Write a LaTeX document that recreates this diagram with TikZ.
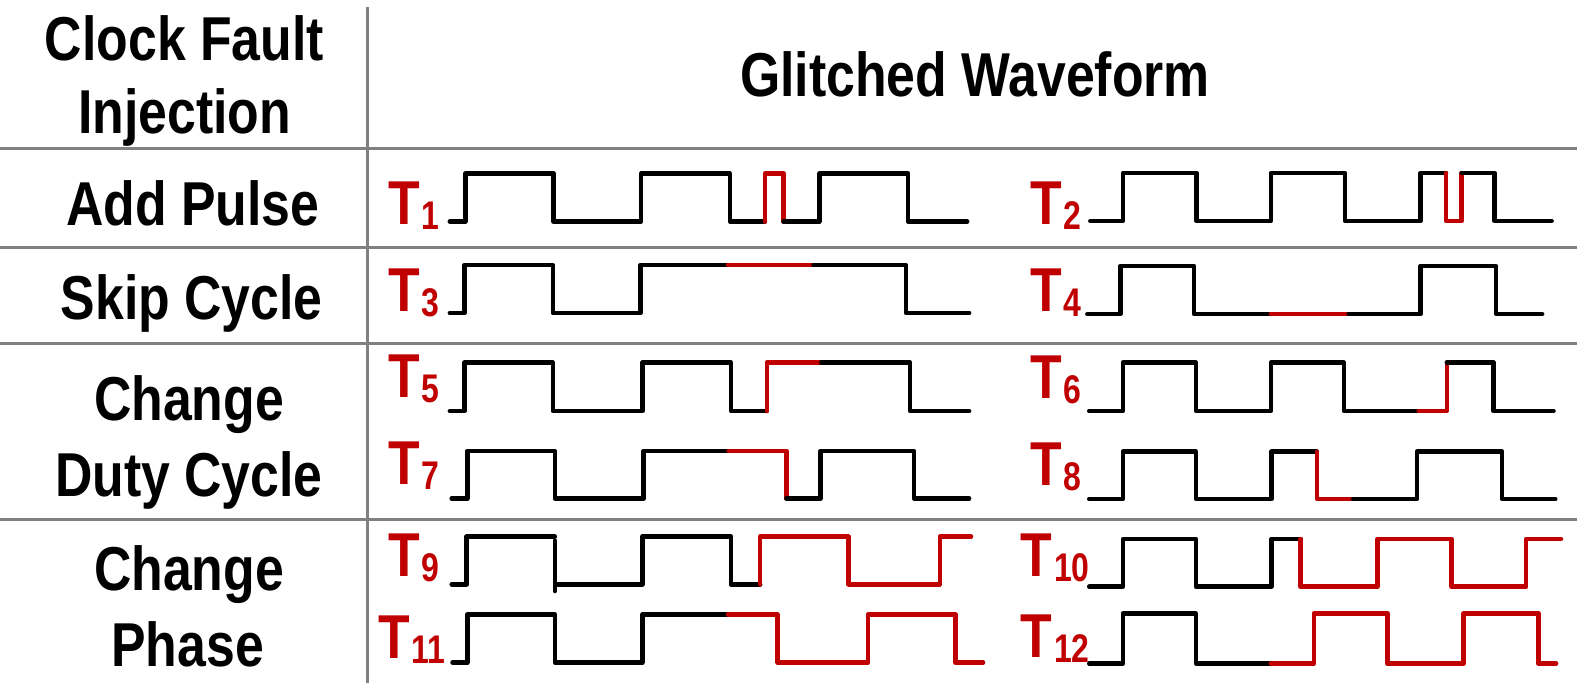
\documentclass[tikz,border=0pt]{standalone}
\usepackage{fontspec}
\newfontfamily\hfont[FakeStretch=0.835]{Liberation Sans}
\newfontfamily\subfnt[FakeStretch=0.8]{Liberation Sans}
\definecolor{cred}{RGB}{192,0,0}
\definecolor{cgrid}{RGB}{128,128,128}
\newcommand{\Tlab}[1]{T\kern1.5pt\raisebox{-5pt}{\subfnt\bfseries\fontsize{40}{40}\selectfont #1}}
\tikzset{
  hdr/.style={font=\hfont\bfseries\fontsize{62}{70}\selectfont, inner sep=0pt, anchor=base},
  lbl/.style={font=\hfont\bfseries\fontsize{62}{70}\selectfont, text=cred, inner sep=0pt, anchor=base west},
  gridline/.style={draw=cgrid, line width=3pt},
  wave/.style={draw=black, line width=4.5pt, line cap=round, line join=round},
  wavered/.style={draw=cred, line width=4.5pt, line cap=round, line join=round}
}
\begin{document}
\begin{tikzpicture}[x=1pt,y=-1pt]
\useasboundingbox (0,0) rectangle (1577,686);
% grid
\draw[gridline] (0,148) -- (1577,148);
\draw[gridline] (0,247) -- (1577,247);
\draw[gridline] (0,343) -- (1577,343);
\draw[gridline] (0,519) -- (1577,519);
\draw[gridline] (367.5,7) -- (367.5,683);
% headers
\node[hdr] (h1) at (184.5,60) {Clock Fault};
\node[hdr] (h2) at (184.5,133.5) {Injection};
\node[hdr] (h3) at (975,96) {Glitched Waveform};
\node[hdr] (r1) at (193,225) {Add Pulse};
\node[hdr] (r2) at (191.7,319) {Skip Cycle};
\node[hdr] (r3a) at (189,420) {Change};
\node[hdr] (r3b) at (189,496.7) {Duty Cycle};
\node[hdr] (r4a) at (189,590.7) {Change};
\node[hdr] (r4b) at (187.7,666.7) {Phase};
% labels
\node[lbl] (t1) at (388,224) {\Tlab{1}};
\node[lbl] (t2) at (1030,224) {\Tlab{2}};
\node[lbl] (t3) at (388,311.7) {\Tlab{3}};
\node[lbl] (t4) at (1030,311.7) {\Tlab{4}};
\node[lbl] (t5) at (388,397.3) {\Tlab{5}};
\node[lbl] (t6) at (1030,398.3) {\Tlab{6}};
\node[lbl] (t7) at (388,484) {\Tlab{7}};
\node[lbl] (t8) at (1030,485) {\Tlab{8}};
\node[lbl] (t9) at (388,576.7) {\Tlab{9}};
\node[lbl] (t10) at (1020.7,576.7) {\Tlab{10}};
\node[lbl] (t11) at (378.6,658.3) {\Tlab{11}};
\node[lbl] (t12) at (1020.7,657.7) {\Tlab{12}};
% T1
\draw[wave] (449.8,221.5)--(465.3,221.5)--(465.3,173.5)--(553.6,173.5)--(553.6,221.5)--(641.2,221.5)--(641.2,173.5)--(729.9,173.5)--(729.9,221.5)--(764.9,221.5);
\draw[wavered] (764.9,221.5)--(764.9,173.5)--(783.5,173.5)--(783.5,221.5);
\draw[wave] (783.5,221.5)--(819.3,221.5)--(819.3,173.5)--(908,173.5)--(908,221.5)--(967.2,221.5);
% T2
\draw[wave] (1090.3,221)--(1122.9,221)--(1122.9,173)--(1196.7,173)--(1196.7,221)--(1270.8,221)--(1270.8,173)--(1344.9,173)--(1344.9,221)--(1420.5,221)--(1420.5,173)--(1446,173);
\draw[wavered] (1446,173)--(1446,221)--(1461.7,221)--(1461.7,173);
\draw[wave] (1461.7,173)--(1494.7,173)--(1494.7,221)--(1551.6,221);
% T3
\draw[wave] (449.8,313)--(464.5,313)--(464.5,265)--(552.8,265)--(552.8,313)--(640.4,313)--(640.4,265)--(727.9,265);
\draw[wavered] (727.9,265)--(813.5,265);
\draw[wave] (813.5,265)--(906.1,265)--(906.1,313)--(969.1,313);
% T4
\draw[wave] (1087.3,314)--(1120.3,314)--(1120.3,266)--(1194,266)--(1194,314)--(1270.8,314);
\draw[wavered] (1270.8,314)--(1348.7,314);
\draw[wave] (1348.7,314)--(1420.5,314)--(1420.5,266)--(1496.2,266)--(1496.2,314)--(1542.2,314);
% T5
\draw[wave] (449.8,411)--(464.5,411)--(464.5,362.7)--(552.8,362.7)--(552.8,411)--(642.3,411)--(642.3,362.7)--(731,362.7)--(731,411)--(766.8,411);
\draw[wavered] (766.8,411)--(766.8,362.7)--(821.3,362.7);
\draw[wave] (821.3,362.7)--(910,362.7)--(910,411)--(969.1,411);
% T6
\draw[wave] (1089.2,411)--(1122.9,411)--(1122.9,362.7)--(1195.9,362.7)--(1195.9,411)--(1270.8,411)--(1270.8,362.7)--(1343.8,362.7)--(1343.8,411)--(1418.7,411);
\draw[wavered] (1418.7,411)--(1446.8,411)--(1446.8,362.7);
\draw[wave] (1446.8,362.7)--(1493.6,362.7)--(1493.6,411)--(1553.5,411);
% T7
\draw[wave] (451.7,498.5)--(467.3,498.5)--(467.3,451)--(554.8,451)--(554.8,498.5)--(643.5,498.5)--(643.5,451)--(728.7,451);
\draw[wavered] (728.7,451)--(786.3,451)--(786.3,498.5);
\draw[wave] (786.3,498.5)--(820.5,498.5)--(820.5,451)--(913.9,451)--(913.9,498.5)--(969.1,498.5);
% T8
\draw[wave] (1089.2,499)--(1122.9,499)--(1122.9,451.7)--(1195.9,451.7)--(1195.9,499)--(1271.5,499)--(1271.5,451.7)--(1316.8,451.7);
\draw[wavered] (1316.8,451.7)--(1316.8,499)--(1353.2,499);
\draw[wave] (1353.2,499)--(1416.8,499)--(1416.8,451.7)--(1502.2,451.7)--(1502.2,499)--(1555.3,499);
% T9
\draw[wave] (451.7,584.3)--(466.5,584.3)--(466.5,536.7)--(554.8,536.7);
\draw[wave] (554.8,540.7)--(554.8,591);
\draw[wave] (556.7,584.3)--(642.3,584.3)--(642.3,536.7)--(731,536.7)--(731,584.3)--(760.2,584.3);
\draw[wavered] (760.2,584.3)--(760.2,536.7)--(848.5,536.7)--(848.5,584.3)--(939.9,584.3)--(939.9,536.7)--(971,536.7);
% T10
\draw[wave] (1089.2,586.7)--(1122.9,586.7)--(1122.9,539)--(1195.9,539)--(1195.9,586.7)--(1271.5,586.7)--(1271.5,539)--(1300.7,539);
\draw[wavered] (1300.7,539)--(1300.7,586.7)--(1377.5,586.7)--(1377.5,539)--(1451.3,539)--(1451.3,586.7)--(1526.1,586.7)--(1526.1,539)--(1561,539);
% T11
\draw[wave] (452.5,662.5)--(467.3,662.5)--(467.3,614.5)--(554.8,614.5)--(554.8,662.5)--(642.3,662.5)--(642.3,614.5)--(727.9,614.5);
\draw[wavered] (727.9,614.5)--(777.7,614.5)--(777.7,662.5)--(868,662.5)--(868,614.5)--(955.5,614.5)--(955.5,662.5)--(983,662.5);
% T12
\draw[wave] (1089.2,663.5)--(1122.9,663.5)--(1122.9,613.5)--(1195.9,613.5)--(1195.9,663.5)--(1270.8,663.5);
\draw[wavered] (1270.8,663.5)--(1313.8,663.5)--(1313.8,613.5)--(1387.6,613.5)--(1387.6,663.5)--(1463.6,663.5)--(1463.6,613.5)--(1538.5,613.5)--(1538.5,663.5)--(1556.1,663.5);
\end{tikzpicture}
\end{document}
